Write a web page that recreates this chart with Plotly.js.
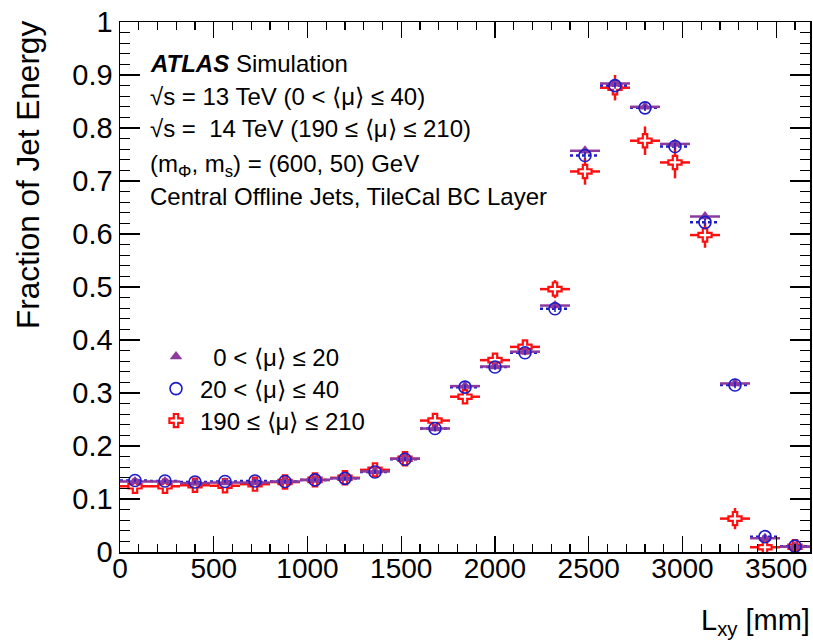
<!DOCTYPE html>
<html>
<head>
<meta charset="utf-8">
<script src="https://cdn.plot.ly/plotly-3.0.1.min.js"></script>
<style>
  html, body { margin: 0; padding: 0; background: #fff; }
  #chart { width: 813px; height: 644px; }
</style>
</head>
<body>
<div id="chart"></div>
<script>
// ---- data ----
const binCenters = [80, 240, 400, 560, 720, 880, 1040, 1200, 1360, 1520, 1680, 1840,
                    2000, 2160, 2320, 2480, 2640, 2800, 2960, 3120, 3280, 3440, 3600];
const binHalfWidth = 80;

// 0 < <mu> <= 20
const fracLowMu = [0.133, 0.133, 0.130, 0.131, 0.131, 0.133, 0.136, 0.139, 0.152, 0.176, 0.233, 0.313,
                   0.350, 0.378, 0.465, 0.757, 0.884, 0.840, 0.770, 0.633, 0.318, 0.026, 0.010];
const errLowMu  = [0.003, 0.003, 0.003, 0.003, 0.003, 0.003, 0.003, 0.003, 0.004, 0.004, 0.005, 0.005,
                   0.005, 0.005, 0.006, 0.007, 0.006, 0.006, 0.007, 0.007, 0.006, 0.004, 0.003];

// 20 < <mu> <= 40
const fracMidMu = [0.135, 0.134, 0.132, 0.133, 0.134, 0.133, 0.136, 0.139, 0.151, 0.175, 0.233, 0.311,
                   0.349, 0.376, 0.459, 0.748, 0.880, 0.838, 0.765, 0.622, 0.315, 0.029, 0.011];
const errMidMu  = [0.003, 0.003, 0.003, 0.003, 0.003, 0.003, 0.003, 0.003, 0.004, 0.004, 0.005, 0.005,
                   0.005, 0.005, 0.006, 0.007, 0.006, 0.006, 0.007, 0.007, 0.006, 0.004, 0.003];

// 190 <= <mu> <= 210
const fracHighMu = [0.124, 0.124, 0.126, 0.125, 0.128, 0.132, 0.136, 0.140, 0.155, 0.176, 0.248, 0.293,
                    0.362, 0.387, 0.496, 0.718, 0.876, 0.776, 0.735, 0.598, 0.063, 0.009, 0.010];
const errHighMu  = [0.006, 0.006, 0.006, 0.006, 0.006, 0.006, 0.006, 0.006, 0.008, 0.008, 0.010, 0.012,
                    0.012, 0.012, 0.017, 0.025, 0.024, 0.027, 0.030, 0.024, 0.020, 0.005, 0.005];

const seriesNames = ['\u00A0\u00A00 < \u27E8\u03BC\u27E9 \u2264 20',
                     '20 < \u27E8\u03BC\u27E9 \u2264 40',
                     '190 \u2264 \u27E8\u03BC\u27E9 \u2264 210'];

const xTickVals = [0, 500, 1000, 1500, 2000, 2500, 3000, 3500];
const yTickVals = [0, 0.1, 0.2, 0.3, 0.4, 0.5, 0.6, 0.7, 0.8, 0.9, 1];
const yTickText = ['0', '0.1', '0.2', '0.3', '0.4', '0.5', '0.6', '0.7', '0.8', '0.9', '1'];

// ---- styles ----
const PURPLE = '#8c3a9d';
const BLUE = '#1c1cc8';
const RED = '#ff1010';
const FONT = 'Liberation Sans, Arial, Helvetica, sans-serif';

const halfW = binCenters.map(() => binHalfWidth);

// dotted horizontal bars for the 20-40 series, built from the data arrays
const dotX = [], dotY = [];
binCenters.forEach((c, i) => {
  dotX.push(c - binHalfWidth, c + binHalfWidth, null);
  dotY.push(fracMidMu[i], fracMidMu[i], null);
});

const traces = [
  {
    x: binCenters, y: fracHighMu, type: 'scatter', mode: 'markers', name: seriesNames[2],
    legend: 'legend3',
    marker: { symbol: 'cross', size: 11, color: '#ffffff', line: { color: RED, width: 2.2 } },
    error_x: { type: 'data', array: halfW, visible: true, color: RED, thickness: 2.5, width: 0 },
    error_y: { type: 'data', array: errHighMu, visible: true, color: RED, thickness: 2.5, width: 0 }
  },
  {
    x: dotX, y: dotY, type: 'scatter', mode: 'lines', showlegend: false, hoverinfo: 'skip',
    line: { color: BLUE, width: 2.5, dash: 'dot' }
  },
  {
    x: binCenters, y: fracLowMu, type: 'scatter', mode: 'markers', name: seriesNames[0],
    legend: 'legend',
    marker: { symbol: 'triangle-up', size: 11, color: PURPLE, line: { width: 0 } },
    error_x: { type: 'data', array: halfW, visible: true, color: PURPLE, thickness: 2.5, width: 0 },
    error_y: { type: 'data', array: errLowMu, visible: true, color: PURPLE, thickness: 2, width: 0 }
  },
  {
    x: binCenters, y: fracMidMu, type: 'scatter', mode: 'markers', name: seriesNames[1],
    legend: 'legend2',
    marker: { symbol: 'circle-open', size: 12, color: BLUE, line: { color: BLUE, width: 1.6 } },
    error_y: { type: 'data', array: errMidMu, visible: true, color: BLUE, thickness: 1.5, width: 0 }
  }
];

const L = 120, R = 810, T = 22, B = 552;
const px2xp = px => (px - L) / (R - L);
const px2yp = py => (B - py) / (B - T);

const textLines = [
  { text: '<b><i>ATLAS</i></b> Simulation', py: 64 },
  { text: '\u221As = 13 TeV (0 < \u27E8\u03BC\u27E9 \u2264 40)', py: 97 },
  { text: '\u221As =\u00A0 14 TeV (190 \u2264 \u27E8\u03BC\u27E9 \u2264 210)', py: 129 },
  { text: '(m<sub>\u03A6</sub>, m<sub>s</sub>) = (600, 50) GeV', py: 165 },
  { text: 'Central Offline Jets, TileCal BC Layer', py: 196 }
];

const annotations = textLines.map(l => ({
  text: l.text, xref: 'paper', yref: 'paper', x: px2xp(148), y: px2yp(l.py),
  xanchor: 'left', yanchor: 'middle', showarrow: false,
  font: { family: FONT, size: 24, color: '#000' }
}));

annotations.push({
  text: 'Fraction of Jet Energy', xref: 'paper', yref: 'paper',
  x: px2xp(28), y: px2yp(19), xanchor: 'center', yanchor: 'top', textangle: -90,
  showarrow: false, font: { family: FONT, size: 31.5, color: '#000' }
});
annotations.push({
  text: 'L<sub>xy</sub> [mm]', xref: 'paper', yref: 'paper',
  x: px2xp(812), y: px2yp(622), xanchor: 'right', yanchor: 'middle',
  showarrow: false, font: { family: FONT, size: 29, color: '#000' }
});

const legendBase = {
  x: px2xp(152), xanchor: 'left', yanchor: 'middle',
  bgcolor: 'rgba(0,0,0,0)', borderwidth: 0, itemwidth: 38,
  font: { family: FONT, size: 24, color: '#000' }
};

const layout = {
  width: 813, height: 644,
  margin: { l: L, r: 813 - R, t: T, b: 644 - B, pad: 0 },
  paper_bgcolor: '#fff', plot_bgcolor: '#fff',
  font: { family: FONT, color: '#000' },
  showlegend: true,
  legend: Object.assign({}, legendBase, { y: px2yp(357) }),
  legend2: Object.assign({}, legendBase, { y: px2yp(389) }),
  legend3: Object.assign({}, legendBase, { y: px2yp(421) }),
  xaxis: {
    range: [0, 3680], showgrid: false, zeroline: false,
    showline: true, linecolor: '#000', linewidth: 1.5, mirror: 'allticks',
    ticks: 'inside', ticklen: 16, tickwidth: 1.2, tickcolor: '#000',
    tickvals: xTickVals, ticktext: xTickVals.map(String),
    ticklabelstandoff: -9,
    tickfont: { family: FONT, size: 28, color: '#000' },
    minor: { dtick: 100, ticks: 'inside', ticklen: 8, tickwidth: 1.2, tickcolor: '#000', showgrid: false }
  },
  yaxis: {
    range: [0, 1], showgrid: false, zeroline: false,
    showline: true, linecolor: '#000', linewidth: 1.5, mirror: 'allticks',
    ticks: 'inside', ticklen: 20, tickwidth: 1.2, tickcolor: '#000',
    tickvals: yTickVals, ticktext: yTickText,
    tickfont: { family: FONT, size: 29, color: '#000' },
    minor: { dtick: 0.02, ticks: 'inside', ticklen: 10, tickwidth: 1.2, tickcolor: '#000', showgrid: false }
  },
  annotations: annotations
};

Plotly.newPlot('chart', traces, layout, { displayModeBar: false, staticPlot: true });
</script>
</body>
</html>
